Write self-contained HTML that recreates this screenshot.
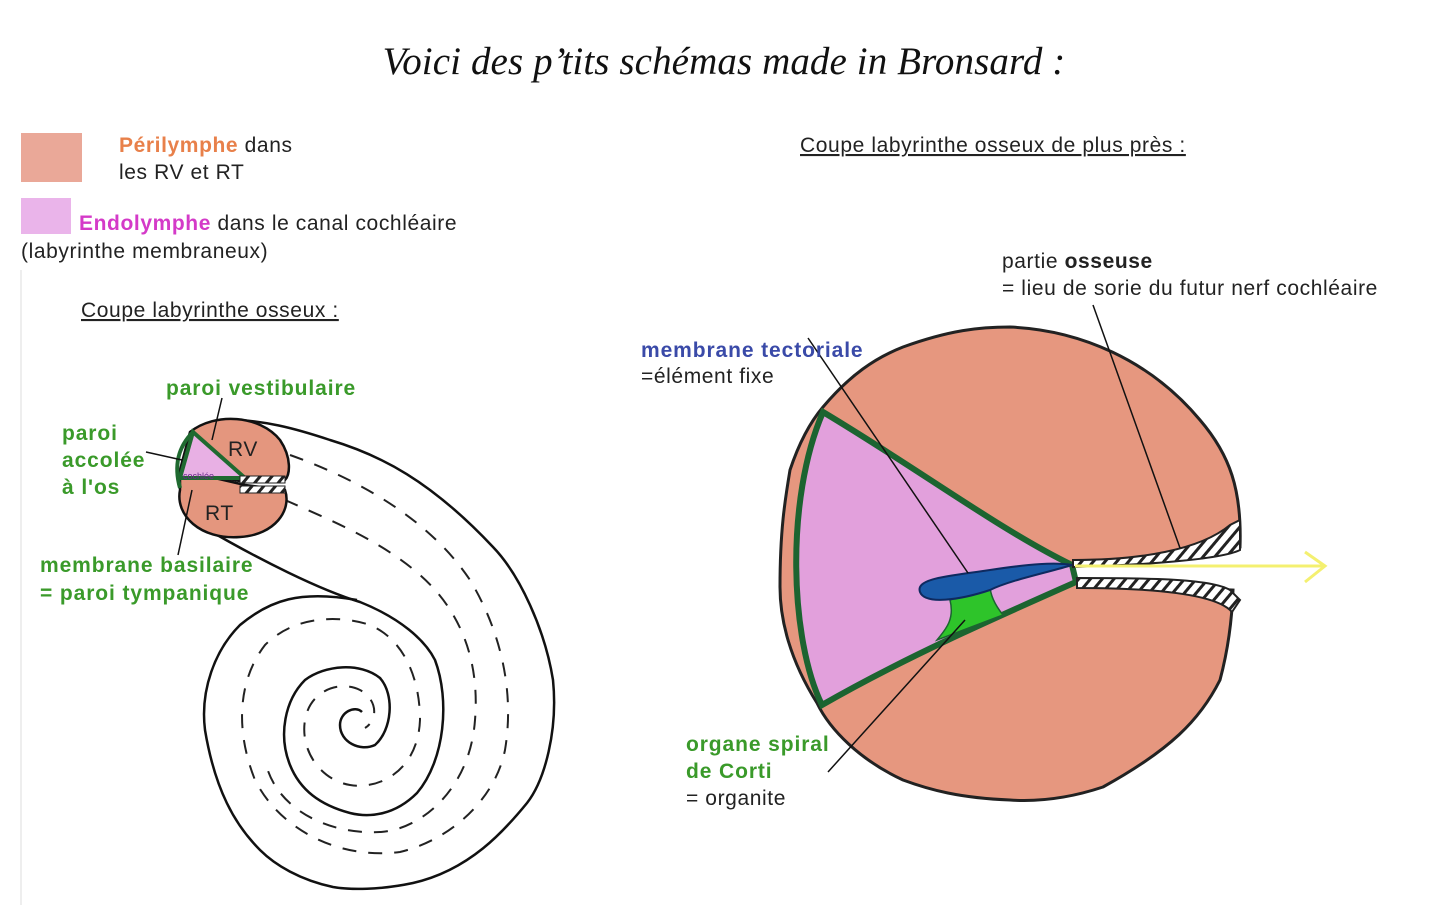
<!DOCTYPE html>
<html><head><meta charset="utf-8"><style>
html,body{margin:0;padding:0;background:#fff;}
svg{display:block}
text{font-family:"Liberation Sans",Arial,sans-serif;font-size:21px;letter-spacing:0.6px;fill:#222}
.g{fill:#3a9a2a;font-weight:bold;letter-spacing:0.9px}
.b{fill:#3a4aa8;font-weight:bold;letter-spacing:0.9px}
</style></head><body>
<svg width="1448" height="910" viewBox="0 0 1448 910" xmlns="http://www.w3.org/2000/svg">
<defs>
<pattern id="hatch" width="9" height="9" patternUnits="userSpaceOnUse" patternTransform="rotate(40)">
<rect width="9" height="9" fill="#fff"/><rect width="3" height="9" fill="#222"/></pattern>
</defs>
<text x="724" y="74" text-anchor="middle" style="font-family:'Liberation Serif',serif;font-style:italic;font-size:39px;letter-spacing:0.1px;fill:#111">Voici des p’tits schémas made in Bronsard :</text>

<rect x="21" y="133" width="61" height="49" fill="#eaa898"/>
<text x="119" y="152"><tspan fill="#e8804a" font-weight="bold">Périlymphe</tspan> dans</text>
<text x="119" y="179">les RV et RT</text>
<rect x="21" y="198" width="50" height="36" fill="#eab4ea"/>
<text x="79" y="230"><tspan fill="#d43ac8" font-weight="bold">Endolymphe</tspan> dans le canal cochléaire</text>
<text x="21" y="258">(labyrinthe membraneux)</text>
<line x1="21" y1="270" x2="21" y2="905" stroke="#eee" stroke-width="2"/>
<text x="81" y="317" text-decoration="underline">Coupe labyrinthe osseux :</text>
<text x="800" y="152" text-decoration="underline">Coupe labyrinthe osseux de plus près :</text>

<g fill="none" stroke="#111" stroke-width="2.5">
<path d="M220,420 C260,418 300,430 330,440 C380,455 430,480 493,547 C520,575 545,630 553,680 C558,730 545,780 527,803 C505,830 470,870 413,883 C380,890 350,890 333,887 C300,880 275,865 260,850 C235,825 215,790 205,730 C200,690 215,650 240,625 C270,600 300,590 357,600"/>
<path d="M205,528 C260,560 320,590 360,602 C400,618 425,640 435,660 C450,700 445,760 417,793 C395,815 370,818 350,813 C320,805 300,790 290,765 C278,735 285,700 305,680 C325,665 360,662 380,678 C395,695 392,730 375,745 C360,752 340,742 340,725 C340,712 355,705 362,712"/>
</g>
<g fill="none" stroke="#222" stroke-width="2" stroke-dasharray="14,12">
<path d="M290,455 C360,480 430,520 470,580 C500,630 515,690 505,750 C495,800 450,840 400,852 C340,860 280,830 255,780 C235,730 238,680 265,645 C295,615 340,615 370,625 C405,640 420,680 420,720 C418,770 380,790 350,785 C320,780 300,750 305,720 C310,690 340,680 360,690 C378,700 378,720 365,728"/>
<path d="M285,500 C330,520 380,540 420,575 C460,610 480,660 475,720 C470,790 420,830 380,832 C330,835 275,810 265,760"/>
</g>

<g>
<path d="M190,432 C215,412 260,415 280,440 C292,458 290,475 285,480 L245,482 L180,470 Z" fill="#e4967e" stroke="#111" stroke-width="2.5"/>
<path d="M180,470 L245,485 L285,490 C292,510 275,535 240,537 C200,540 175,515 180,490 Z" fill="#e4967e" stroke="#111" stroke-width="2.5"/>
<path d="M193,432 L245,478 L180,478 Z" fill="#e8b0e4" stroke="#1f6a30" stroke-width="4"/>
<path d="M193,432 C175,450 175,470 180,488" fill="none" stroke="#1f6a30" stroke-width="4"/>
<rect x="240" y="476" width="45" height="7" fill="url(#hatch)" stroke="#222"/>
<rect x="240" y="486" width="45" height="7" fill="url(#hatch)" stroke="#222"/>
<text x="228" y="456" style="font-size:21px">RV</text>
<text x="205" y="520" style="font-size:21px">RT</text>
<text x="183" y="479" style="font-size:9px;letter-spacing:0;fill:#6a2a8a">cochlée</text>
</g>
<g stroke="#111" stroke-width="1.5">
<line x1="222" y1="398" x2="212" y2="440"/>
<line x1="146" y1="452" x2="182" y2="460"/>
<line x1="192" y1="490" x2="178" y2="555"/>
</g>
<text class="g" x="166" y="395">paroi vestibulaire</text>
<text class="g" x="62" y="440">paroi</text>
<text class="g" x="62" y="467">accolée</text>
<text class="g" x="62" y="494">à l'os</text>
<text class="g" x="40" y="572">membrane basilaire</text>
<text class="g" x="40" y="600">= paroi tympanique</text>

<path d="M903,347 C950,330 980,327 1010,327 C1080,330 1150,360 1200,420 C1230,455 1242,490 1240,547 L1073,565 L1077,583 L1233,590 C1232,620 1228,650 1220,680 C1200,720 1170,750 1103,787 C1070,798 1040,802 1010,800 C960,798 930,790 903,780 C860,760 830,730 817,703 C790,660 780,620 780,587 C780,530 785,500 790,470 C800,440 812,420 823,407 C850,375 875,358 903,347 Z" fill="#e6977f" stroke="#222" stroke-width="3"/>
<path d="M823,412 C920,470 1000,530 1072,565 L1076,582 C990,620 900,660 822,705 C790,640 785,500 823,412 Z" fill="#e2a0dc" stroke="#1c6430" stroke-width="6"/>
<path d="M1073,560 C1140,560 1200,550 1230,525 L1240,520 L1240,550 C1220,560 1140,565 1073,567 Z" fill="url(#hatch)" stroke="#222" stroke-width="2"/>
<path d="M1077,578 C1140,578 1210,578 1230,590 L1240,600 L1232,612 C1215,592 1140,588 1077,588 Z" fill="url(#hatch)" stroke="#222" stroke-width="2"/>
<path d="M950,600 C955,620 945,630 937,640 L1003,615 C995,605 990,595 990,585 Z" fill="#2ec42a" stroke="#1c6430" stroke-width="1.5"/>
<path d="M920,592 C915,578 950,576 990,570 C1030,564 1055,562 1072,565 C1050,572 1010,580 990,590 C960,600 925,605 920,592 Z" fill="#1a5aa8" stroke="#0e2a60" stroke-width="2"/>
<line x1="1075" y1="566" x2="1325" y2="566" stroke="#f4f070" stroke-width="3"/>
<polyline points="1305,552 1325,566 1305,582" fill="none" stroke="#f4f070" stroke-width="3"/>
<g stroke="#111" stroke-width="1.5">
<line x1="808" y1="338" x2="968" y2="573"/>
<line x1="1093" y1="305" x2="1180" y2="548"/>
<line x1="828" y1="772" x2="965" y2="620"/>
</g>
<text class="b" x="641" y="357">membrane tectoriale</text>
<text x="641" y="383">=élément fixe</text>
<text x="1002" y="268">partie <tspan font-weight="bold">osseuse</tspan></text>
<text x="1002" y="295">= lieu de sorie du futur nerf cochléaire</text>
<text class="g" x="686" y="751">organe spiral</text>
<text class="g" x="686" y="778">de Corti</text>
<text x="686" y="805">= organite</text>
</svg>
</body></html>
